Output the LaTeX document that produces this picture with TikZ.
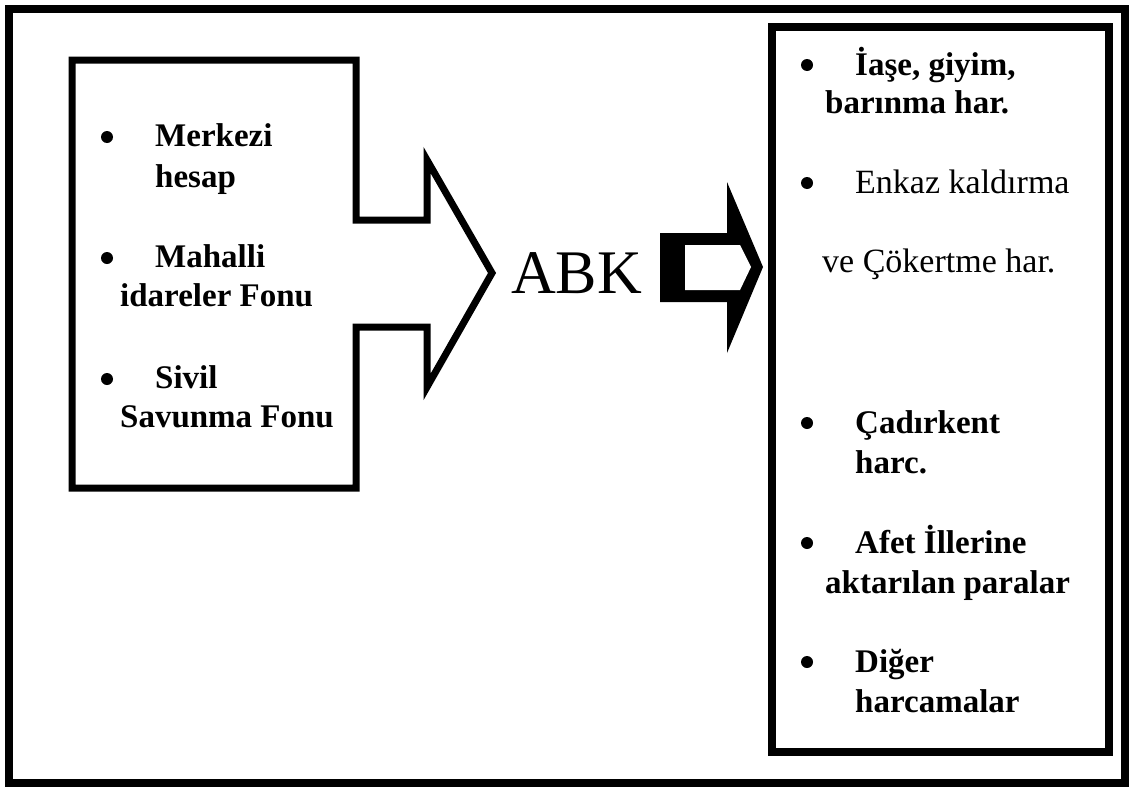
\documentclass[tikz,border=0pt]{standalone}
\usepackage{fontspec}
\setmainfont{Liberation Serif}
\begin{document}
\begin{tikzpicture}[x=1pt,y=-1pt,
  frame/.style={draw=black,line width=8pt,line join=miter},
  shapeline/.style={draw=black,line width=7pt,line join=miter},
  bold33/.style={anchor=base west,inner sep=0pt,font=\fontsize{33}{40}\selectfont\bfseries},
  reg33/.style={anchor=base west,inner sep=0pt,font=\fontsize{34}{40}\selectfont},
  dot/.style={circle,fill=black,inner sep=0pt,minimum size=12pt}]
\useasboundingbox (0,0) rectangle (1129,787);
% outer frame
\draw[frame] (9,9) rectangle (1125,783);
% source box merged with a large outlined arrow
\draw[shapeline] (72,60) -- (356,60) -- (356,220) -- (427,220) -- (427,160)
  -- (492,273) -- (427,387) -- (427,327) -- (356,327) -- (356,488)
  -- (72,488) -- cycle;
% source items
\node[dot] (b1) at (107,137) {};
\node[bold33] (l1a) at (155,146) {Merkezi};
\node[bold33] (l1b) at (155,187) {hesap};
\node[dot] (b2) at (107,258) {};
\node[bold33] (l2a) at (155,267) {Mahalli};
\node[bold33] (l2b) at (120,306) {idareler Fonu};
\node[dot] (b3) at (107,379) {};
\node[bold33] (l3a) at (155,388) {Sivil};
\node[bold33] (l3b) at (120,427) {Savunma Fonu};
% centre label
\node[anchor=base west,inner sep=0pt,font=\fontsize{62}{70}\selectfont] (abk) at (511,293) {ABK};
% small heavy arrow
\fill[black] (660,233) -- (727,233) -- (727,182) -- (763,267) -- (727,353)
  -- (727,302) -- (660,302) -- cycle;
\fill[white] (685,245) -- (740,245) -- (751,267) -- (740,290) -- (685,290) -- cycle;
% destination box
\draw[frame] (772,27) rectangle (1109,752);
% destination items
\node[dot] (r1) at (807,65) {};
\node[bold33] (r1a) at (855,75) {İaşe, giyim,};
\node[bold33] (r1b) at (825,113) {barınma har.};
\node[dot] (r2) at (807,183) {};
\node[reg33] (r2a) at (855,193) {Enkaz kaldırma};
\node[reg33] (r2b) at (822,272) {ve Çökertme har.};
\node[dot] (r3) at (807,423) {};
\node[bold33] (r3a) at (855,433) {Çadırkent};
\node[bold33] (r3b) at (855,473) {harc.};
\node[dot] (r4) at (807,543) {};
\node[bold33] (r4a) at (855,553) {Afet İllerine};
\node[bold33] (r4b) at (825,593) {aktarılan paralar};
\node[dot] (r5) at (807,662) {};
\node[bold33] (r5a) at (855,672) {Diğer};
\node[bold33] (r5b) at (855,712) {harcamalar};
\end{tikzpicture}
\end{document}
